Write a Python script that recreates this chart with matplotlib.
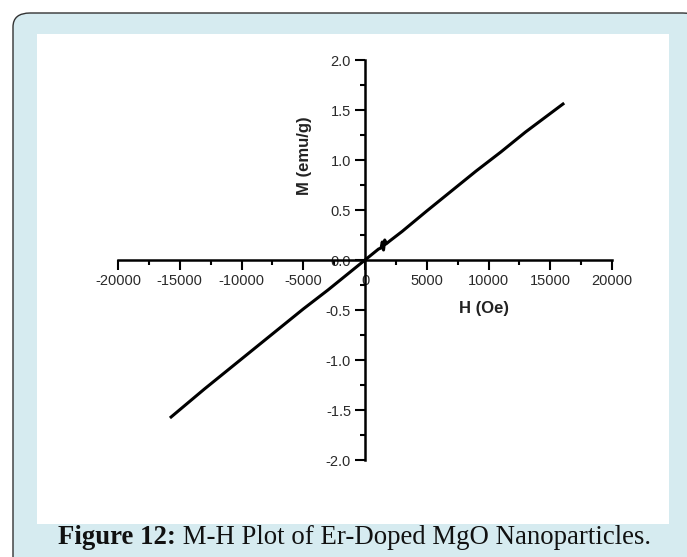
import matplotlib
matplotlib.use("Agg")
import matplotlib.pyplot as plt
from matplotlib.patches import FancyBboxPatch, Rectangle
from matplotlib.ticker import MultipleLocator

# Data
H = [-15700, -13000, -11000, -9000, -7000, -5000, -3000, -1500, -500, 0, 400, 800,
     1100, 1300, 1400, 1500, 1600, 1700, 2000, 3000, 5000, 7000, 9000, 11000, 13000, 16030]
M = [-1.57, -1.29, -1.09, -0.89, -0.69, -0.49, -0.30, -0.15, -0.05, 0.0, 0.04, 0.08,
     0.11, 0.12, 0.18, 0.10, 0.20, 0.16, 0.19, 0.285, 0.49, 0.69, 0.89, 1.08, 1.28, 1.56]
xticks = [-20000, -15000, -10000, -5000, 0, 5000, 10000, 15000, 20000]
yticks = [-2.0, -1.5, -1.0, -0.5, 0.0, 0.5, 1.0, 1.5, 2.0]
xlabel = "H (Oe)"
ylabel = "M (emu/g)"
caption_bold = "Figure 12:"
caption_rest = " M-H Plot of Er-Doped MgO Nanoparticles."

W, Hpx = 687, 557
fig = plt.figure(figsize=(W / 100, Hpx / 100), dpi=100)
fig.patch.set_facecolor("white")

def fx(px):
    return px / W

def fy(py):
    return 1 - py / Hpx

# Outer rounded frame
frame = FancyBboxPatch((fx(13), fy(580)), fx(700) - fx(13), fy(13) - fy(580),
                       boxstyle="round,pad=0,rounding_size=0.025",
                       transform=fig.transFigure, facecolor="#d6ebf0",
                       edgecolor="#333333", linewidth=1.0, zorder=0)
fig.patches.append(frame)
# Inner white panel
panel = Rectangle((fx(37), fy(524)), fx(669) - fx(37), fy(34) - fy(524),
                  transform=fig.transFigure, facecolor="white", edgecolor="none", zorder=0.5)
fig.patches.append(panel)

# Axes
ax = fig.add_axes([fx(118), fy(460), fx(612) - fx(118), fy(60) - fy(460)])
ax.set_zorder(2)
ax.set_facecolor("none")
ax.plot(H, M, color="black", linewidth=2.2, zorder=3)
ax.set_xlim(-20000, 20000)
ax.set_ylim(-2.0, 2.0)

for s in ["top", "right"]:
    ax.spines[s].set_visible(False)
ax.spines["left"].set_position(("data", 0))
ax.spines["bottom"].set_position(("data", 0))
for s in ["left", "bottom"]:
    ax.spines[s].set_linewidth(1.8)

ax.set_xticks(xticks)
ax.set_xticklabels([f"{v:d}" for v in xticks])
ax.set_yticks(yticks)
ax.set_yticklabels([f"{v:.1f}" for v in yticks])
ax.xaxis.set_minor_locator(MultipleLocator(2500))
ax.yaxis.set_minor_locator(MultipleLocator(0.25))
ax.tick_params(axis="both", which="major", direction="out", length=7, width=1.5,
               labelsize=10.5, labelcolor="#2a2a2a")
ax.tick_params(axis="both", which="minor", direction="out", length=3.5, width=1.5)
ax.tick_params(axis="x", pad=3)
ax.tick_params(axis="y", pad=3)
for lab in ax.get_xticklabels() + ax.get_yticklabels():
    lab.set_fontfamily("Liberation Sans")

fig.text(fx(484), fy(308), xlabel, ha="center", va="center", fontsize=12,
         fontweight="bold", family="Liberation Sans", color="#222222", zorder=3)
fig.text(fx(305), fy(156), ylabel, ha="center", va="center", fontsize=12,
         fontweight="bold", family="Liberation Sans", rotation=90, color="#222222", zorder=3)

# Caption
t1 = fig.text(fx(58), fy(538), caption_bold, ha="left", va="center", fontsize=19.3,
              fontweight="bold", family="Liberation Serif", color="#111111", zorder=3)
fig.canvas.draw()
bb = t1.get_window_extent()
fig.text(bb.x1 / W, fy(538), caption_rest, ha="left", va="center", fontsize=19.3,
         family="Liberation Serif", color="#111111", zorder=3)

fig.savefig("out.png", dpi=100)
